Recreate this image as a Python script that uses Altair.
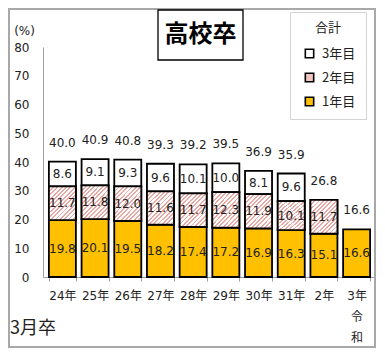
import altair as alt
import pandas as pd

# ---- data ----
categories = ["24年", "25年", "26年", "27年", "28年", "29年", "30年", "31年", "2年", "3年"]
year1 = [19.8, 20.1, 19.5, 18.2, 17.4, 17.2, 16.9, 16.3, 15.1, 16.6]
year2 = [11.7, 11.8, 12.0, 11.6, 11.7, 12.3, 11.9, 10.1, 11.7, None]
year3 = [8.6, 9.1, 9.3, 9.6, 10.1, 10.0, 8.1, 9.6, None, None]
totals = [40.0, 40.9, 40.8, 39.3, 39.2, 39.5, 36.9, 35.9, 26.8, 16.6]
series = ["1年目", "2年目", "3年目"]
legend_order = ["3年目", "2年目", "1年目"]
era_label = ["令", "和"]
era_category = "3年"
chart_title = "高校卒"
footnote = "3月卒"
legend_title = "合計"
unit_label = "(%)"
y_ticks = [0, 10, 20, 30, 40, 50, 60, 70, 80]

rows = []
for i, c in enumerate(categories):
    for k, vals in enumerate([year1, year2, year3]):
        v = vals[i]
        if v is not None:
            rows.append({"cat": c, "series": series[k], "ord": k, "value": v})
df = pd.DataFrame(rows)
tot_df = pd.DataFrame({"cat": categories, "total": totals})

NUM_FONT = "DejaVu Sans, Noto Sans CJK JP"
JP_FONT = "Noto Sans CJK JP"

# hatch (red diagonal stripes) as a hard-stop linear gradient
HATCH_RED = "#eaa9a5"
stops = []
n = 16
frac = 0.42
for k in range(n):
    a = k / n
    b = (k + frac) / n
    c = (k + 1) / n
    stops += [
        alt.GradientStop(offset=a, color=HATCH_RED),
        alt.GradientStop(offset=b, color=HATCH_RED),
        alt.GradientStop(offset=b, color="#ffffff"),
        alt.GradientStop(offset=c, color="#ffffff"),
    ]
hatch = alt.LinearGradient(gradient="linear", stops=stops, x1=0, y1=0, x2=1, y2=1.25)

label_expr = (
    "datum.value == '" + era_category + "' ? ['" + era_category + "', '"
    + "', '".join(era_label) + "'] : datum.label"
)

x_enc = alt.X(
    "cat:N",
    sort=categories,
    scale=alt.Scale(paddingInner=0.174, paddingOuter=0.18),
    axis=alt.Axis(
        title=None, labelAngle=0, tickBand="extent", tickSize=4,
        tickColor="#a0a0a0", domainColor="#a0a0a0", labelPadding=9,
        labelFontSize=12, labelColor="#222222", labelFont=NUM_FONT,
        labelLineHeight=21, labelExpr=label_expr,
    ),
)
y_axis = alt.Axis(
    values=y_ticks, ticks=False, grid=False, domainColor="#a0a0a0",
    labelPadding=14, labelFontSize=12, labelColor="#222222", labelFont=NUM_FONT,
    title=unit_label, titleAngle=0, titleX=-19, titleY=-17, titleAlign="center",
    titleBaseline="middle", titleFontWeight="normal", titleFontSize=12,
    titleFont=NUM_FONT, titleColor="#222222",
)
y_scale = alt.Scale(domain=[0, 80], nice=False)

base = alt.Chart(df).transform_stack(
    stack="value", groupby=["cat"], sort=[alt.SortField("ord", order="ascending")],
    as_=["y0", "y1"],
).transform_calculate(mid="(datum.y0 + datum.y1) / 2")

bars = base.mark_bar(stroke="black", strokeWidth=1.8).encode(
    x=x_enc,
    y=alt.Y("y0:Q", scale=y_scale, axis=y_axis),
    y2="y1:Q",
    color=alt.Color(
        "series:N",
        scale=alt.Scale(domain=legend_order, range=["#ffffff", "#f3c4c1", "#ffc000"]),
        legend=alt.Legend(
            title=legend_title, orient="none", legendX=247, legendY=-35,
            padding=10, fillColor="white", strokeColor="#d4d4d4",
            symbolType="square", symbolSize=70, symbolStrokeColor="black",
            symbolStrokeWidth=1.6, labelFontSize=13, labelFont=JP_FONT,
            labelColor="#222222", titleFontSize=13, titleFont=JP_FONT,
            titleFontWeight="normal", titleColor="#222222", titleAnchor="middle",
            titleAlign="center", rowPadding=9, titlePadding=12, labelOffset=6,
            symbolOffset=3, labelExpr="datum.label + '\u3000\u3000'",
        ),
    ),
)

hatched = base.transform_filter("datum.series == '2年目'").mark_bar(
    fill=hatch, stroke="black", strokeWidth=1.8
).encode(x=x_enc, y=alt.Y("y0:Q", scale=y_scale, axis=y_axis), y2="y1:Q")

seg_text = base.mark_text(font=NUM_FONT, fontSize=12, color="#222222").encode(
    x=x_enc,
    y=alt.Y("mid:Q", scale=y_scale, axis=y_axis),
    text=alt.Text("value:Q", format=".1f"),
)

tot_text = alt.Chart(tot_df).mark_text(
    font=NUM_FONT, fontSize=12, color="#222222", dy=-19
).encode(
    x=x_enc,
    y=alt.Y("total:Q", scale=y_scale, axis=y_axis),
    text=alt.Text("total:Q", format=".1f"),
)

one = pd.DataFrame({"t": [chart_title]})
title_box = alt.Chart(one).mark_rect(
    fill="transparent", stroke="black", strokeWidth=1.3
).encode(x=alt.value(115), x2=alt.value(200), y=alt.value(-37), y2=alt.value(13))
title_text = alt.Chart(one).mark_text(
    font=JP_FONT, fontSize=24, fontWeight="bold", color="black",
    align="center", baseline="middle",
).encode(x=alt.value(157.5), y=alt.value(-12), text="t:N")

foot = alt.Chart(pd.DataFrame({"t": [footnote]})).mark_text(
    font=JP_FONT, fontSize=18, color="#222222", align="left", baseline="middle"
).encode(x=alt.value(-33), y=alt.value(282), text="t:N")

border = alt.Chart(one).mark_rect(
    fill="transparent", stroke="#a8a8a8", strokeWidth=2
).encode(x=alt.value(-34), x2=alt.value(332), y=alt.value(-38), y2=alt.value(300))

chart = alt.layer(
    border, bars, hatched, seg_text, tot_text, title_box, title_text, foot
).properties(
    width=333,
    height=230,
    padding={"left": 35, "top": 39, "right": 0, "bottom": 71},
    autosize=alt.AutoSizeParams(type="none"),
    background="white",
).configure_view(strokeWidth=0)

chart.save("out.html", embed_options={"renderer": "svg", "actions": False})
